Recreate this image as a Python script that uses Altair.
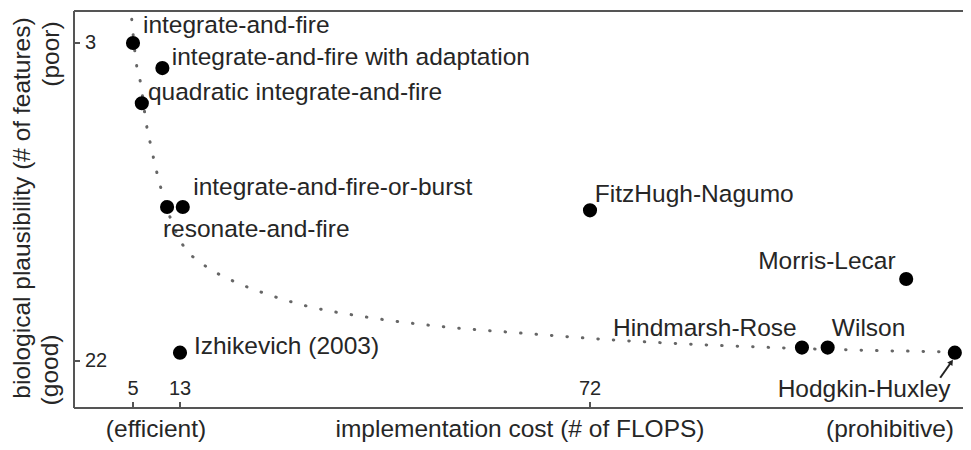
import altair as alt
import pandas as pd

# ---- data ----
names = ["integrate-and-fire", "integrate-and-fire with adaptation",
         "quadratic integrate-and-fire", "integrate-and-fire-or-burst",
         "resonate-and-fire", "Izhikevich (2003)", "FitzHugh-Nagumo",
         "Morris-Lecar", "Hindmarsh-Rose", "Wilson", "Hodgkin-Huxley"]
flops = [5, 10, 6.5, 13.4, 10.8, 13, 72, 117.5, 102.5, 106.2, 124.5]
features = [3, 4.5, 6.6, 12.8, 12.8, 21.5, 13.0, 17.1, 21.2, 21.2, 21.5]

label_flops = [6.7, 11.6, 7.55, 14.9, 10.1, 15.0, 72.7, 96.2, 75.3, 106.8, 99.0]
label_features = [2.4, 4.3, 6.4, 12.1, 14.6, 21.6, 12.5, 16.5, 20.5, 20.5, 24.15]

curve_flops = [4.78, 5.63, 6.19, 7.33, 7.89, 9.03, 11.81, 13.24, 16.45, 20.34,
               24.51, 31.09, 39.77, 50.85, 62.03, 75.31, 88.84, 100.06, 112.3,
               122.8, 126.2]
curve_features = [1.58, 4.37, 5.21, 7.96, 8.90, 10.69, 13.87, 14.95, 16.26, 17.16,
                  17.86, 18.70, 19.37, 19.95, 20.33, 20.74, 21.04, 21.22, 21.37,
                  21.46, 21.52]

arrow_flops = [122.4, 124.0]
arrow_features = [23.0, 22.06]

x_ticks = [5, 13, 72]
y_ticks = [3, 22]

# ---- layout / style ----
W, H = 889, 397
FONT = "Liberation Sans"
TXT = "#262626"
xs = alt.Scale(domain=[5, 13, 72], range=[59, 106, 516], nice=False, zero=False)
ys = alt.Scale(domain=[3, 22], range=[32, 350], nice=False, zero=False)

pts = pd.DataFrame({"name": names, "flops": flops, "features": features})
lbl = pd.DataFrame({"name": names, "flops": label_flops, "features": label_features})
crv = pd.DataFrame({"flops": curve_flops, "features": curve_features,
                    "order": list(range(len(curve_flops)))})
arr = pd.DataFrame({"f1": [arrow_flops[0]], "f2": [arrow_flops[1]],
                    "g1": [arrow_features[0]], "g2": [arrow_features[1]]})
tip = pd.DataFrame({"flops": [arrow_flops[1]], "features": [arrow_features[1]]})
xt = pd.DataFrame({"v": x_ticks, "t": [str(v) for v in x_ticks]})
yt = pd.DataFrame({"v": y_ticks, "t": [str(v) for v in y_ticks]})
one = pd.DataFrame({"a": [0]})

X = lambda f: alt.X(f, type="quantitative", scale=xs, axis=None)
Y = lambda f: alt.Y(f, type="quantitative", scale=ys, axis=None)

frame_col = "#555555"
left = alt.Chart(one).mark_rule(color=frame_col, strokeWidth=2).encode(
    x=alt.value(0), y=alt.value(0), y2=alt.value(H))
top = alt.Chart(one).mark_rule(color=frame_col, strokeWidth=2).encode(
    x=alt.value(0), x2=alt.value(W), y=alt.value(0))
bottom = alt.Chart(one).mark_rule(color=frame_col, strokeWidth=2).encode(
    x=alt.value(0), x2=alt.value(W), y=alt.value(H))

xtick = alt.Chart(xt).mark_rule(color=frame_col, strokeWidth=2).encode(
    x=X("v"), y=alt.value(H - 6), y2=alt.value(H))
ytick = alt.Chart(yt).mark_rule(color=frame_col, strokeWidth=2).encode(
    y=Y("v"), x=alt.value(0), x2=alt.value(6))
xlab = alt.Chart(xt).mark_text(font=FONT, fontSize=20, color=TXT, align="center",
                               baseline="alphabetic").encode(
    x=X("v"), y=alt.value(H - 13), text="t:N")
ylab = alt.Chart(yt).mark_text(font=FONT, fontSize=20, color=TXT, align="left",
                               baseline="middle").encode(
    y=Y("v"), x=alt.value(11), text="t:N")

curve = alt.Chart(crv).mark_line(color="#666666", strokeWidth=3, strokeCap="round",
                                 strokeDash=[0.5, 15], interpolate="monotone").encode(
    x=X("flops"), y=Y("features"), order="order:Q")

dots = alt.Chart(pts).mark_circle(color="black", opacity=1, size=200).encode(
    x=X("flops"), y=Y("features"))

labels = alt.Chart(lbl).mark_text(font=FONT, fontSize=24.5, color=TXT, align="left",
                                  baseline="alphabetic").encode(
    x=X("flops"), y=Y("features"), text="name:N")

arrow = alt.Chart(arr).mark_rule(color="#222222", strokeWidth=2).encode(
    x=X("f1"), x2="f2", y=Y("g1"), y2="g2")
head = alt.Chart(tip).mark_point(shape="triangle-up", filled=True, color="#222222",
                                 size=40, angle=34, opacity=1).encode(
    x=X("flops"), y=Y("features"))

def title_text(txt, x, y, angle=0, align="center"):
    return alt.Chart(one).mark_text(font=FONT, fontSize=24.5, color=TXT, angle=angle,
                                    align=align, baseline="alphabetic", text=txt).encode(
        x=alt.value(x), y=alt.value(y))

ttl = [
    title_text("implementation cost (# of FLOPS)", 446, H + 29),
    title_text("(efficient)", 82, H + 29),
    title_text("(prohibitive)", 816, H + 29),
    title_text("biological plausibility (# of features)", -44, 197, angle=270),
    title_text("(poor)", -15, 43, angle=270),
    title_text("(good)", -16, 359, angle=270),
]

chart = alt.layer(left, top, bottom, xtick, ytick, xlab, ylab, curve, dots, labels,
                  arrow, head, *ttl).properties(
    width=W, height=H,
    padding={"left": 66, "top": 3, "right": 0, "bottom": 34},
    autosize=alt.AutoSizeParams(type="none"),
).configure_view(stroke=None).configure(background="white")

chart.save("out.html", embed_options={"renderer": "svg", "actions": False})
